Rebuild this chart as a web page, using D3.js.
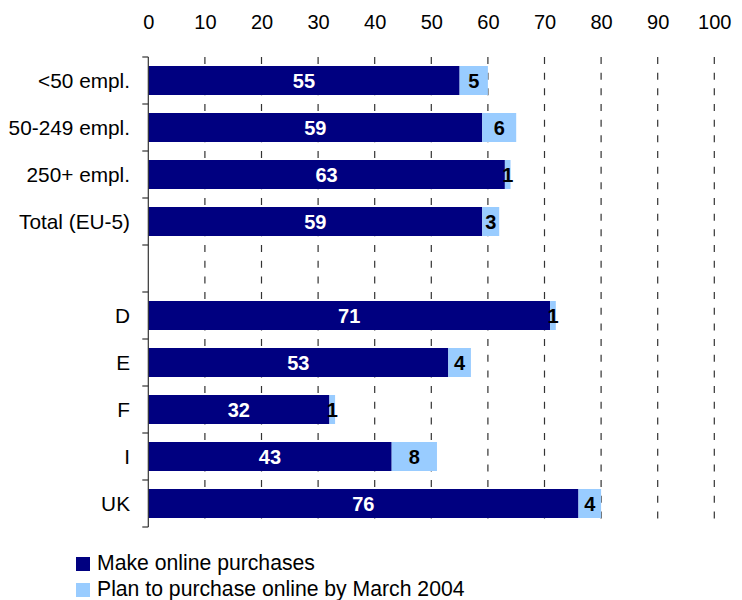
<!DOCTYPE html>
<html>
<head>
<meta charset="utf-8">
<script src="https://cdn.jsdelivr.net/npm/d3@7/dist/d3.min.js"></script>
<style>
  html, body { margin: 0; padding: 0; background: #fff; }
  svg { display: block; font-family: Arial, "Liberation Sans", sans-serif; }
</style>
</head>
<body>
<svg id="chart" width="742" height="600"></svg>
<script>
// Categories top to bottom; the empty entry leaves a gap between groups
const categories = ["<50 empl.", "50-249 empl.", "250+ empl.", "Total (EU-5)", "", "D", "E", "F", "I", "UK"];
// Share of enterprises that make online purchases (%)
const makeOnline = [55, 59, 63, 59, null, 71, 53, 32, 43, 76];
// Share planning to purchase online by March 2004 (%)
const planOnline = [5, 6, 1, 3, null, 1, 4, 1, 8, 4];
const xTicks = [0, 10, 20, 30, 40, 50, 60, 70, 80, 90, 100];
const seriesNames = ["Make online purchases", "Plan to purchase online by March 2004"];
const colors = ["#000080", "#99ccff"];

const svg = d3.select("#chart");
const plotLeft = 148.3, plotRight = 714.3, plotTop = 57, plotBottom = 527;

const x = d3.scaleLinear().domain([0, 100]).range([plotLeft, plotRight]);
const y = d3.scaleBand().domain(d3.range(categories.length))
  .range([plotTop, plotBottom]).paddingInner(0.383).paddingOuter(0.1915);

// Dashed vertical gridlines
svg.append("g").selectAll("line")
  .data(xTicks.filter(d => d > 0))
  .join("line")
  .attr("x1", d => x(d)).attr("x2", d => x(d))
  .attr("y1", plotTop).attr("y2", plotBottom)
  .attr("stroke", "#333").attr("stroke-width", 1.2)
  .attr("stroke-dasharray", "7,8.67");

// Top axis labels
const xAxis = d3.axisTop(x).tickValues(xTicks).tickSize(0).tickPadding(0);
const gx = svg.append("g").attr("transform", "translate(0,29)").call(xAxis);
gx.select(".domain").remove();
gx.selectAll("text").attr("font-size", 20).attr("fill", "#000")
  .attr("font-family", "Arial, 'Liberation Sans', sans-serif");

const rows = categories.map((c, i) => ({ i, c, a: makeOnline[i], b: planOnline[i] }))
  .filter(d => d.a != null);

// Stacked bars
const bars = svg.append("g");
bars.selectAll("rect.a").data(rows).join("rect").attr("class", "a")
  .attr("x", x(0)).attr("y", d => y(d.i))
  .attr("width", d => x(d.a) - x(0)).attr("height", y.bandwidth())
  .attr("fill", colors[0]);
bars.selectAll("rect.b").data(rows).join("rect").attr("class", "b")
  .attr("x", d => x(d.a)).attr("y", d => y(d.i))
  .attr("width", d => x(d.a + d.b) - x(d.a)).attr("height", y.bandwidth())
  .attr("fill", colors[1]);

// Value labels
const labels = svg.append("g").attr("font-size", 20).attr("font-weight", "bold")
  .attr("text-anchor", "middle");
labels.selectAll("text.a").data(rows).join("text").attr("class", "a")
  .attr("x", d => x(d.a / 2)).attr("y", d => y(d.i) + y.bandwidth() / 2)
  .attr("dy", "0.36em").attr("fill", "#fff").text(d => d.a);
labels.selectAll("text.b").data(rows).join("text").attr("class", "b")
  .attr("x", d => x(d.a + d.b / 2)).attr("y", d => y(d.i) + y.bandwidth() / 2)
  .attr("dy", "0.36em").attr("fill", "#000").text(d => d.b);

// Left category axis with boundary ticks
const axisG = svg.append("g");
axisG.append("line")
  .attr("x1", plotLeft).attr("x2", plotLeft).attr("y1", plotTop).attr("y2", plotBottom)
  .attr("stroke", "#333").attr("stroke-width", 1.2);
axisG.selectAll("line.tick")
  .data(d3.range(categories.length + 1))
  .join("line").attr("class", "tick")
  .attr("x1", plotLeft - 6).attr("x2", plotLeft)
  .attr("y1", i => plotTop + i * y.step()).attr("y2", i => plotTop + i * y.step())
  .attr("stroke", "#333").attr("stroke-width", 1.2);
axisG.selectAll("text")
  .data(categories.map((c, i) => ({ c, i })).filter(d => d.c !== ""))
  .join("text")
  .attr("x", 130).attr("y", d => y(d.i) + y.bandwidth() / 2)
  .attr("dy", "0.36em").attr("text-anchor", "end")
  .attr("font-size", 20.8).attr("fill", "#000").text(d => d.c);

// Legend
const legend = svg.append("g");
seriesNames.forEach((name, k) => {
  legend.append("rect")
    .attr("x", 76).attr("y", 557 + k * 26).attr("width", 14).attr("height", 14)
    .attr("fill", colors[k]);
  legend.append("text")
    .attr("x", 97).attr("y", 569.5 + k * 26)
    .attr("font-size", 21.2).attr("fill", "#000").text(name);
});
</script>
</body>
</html>
